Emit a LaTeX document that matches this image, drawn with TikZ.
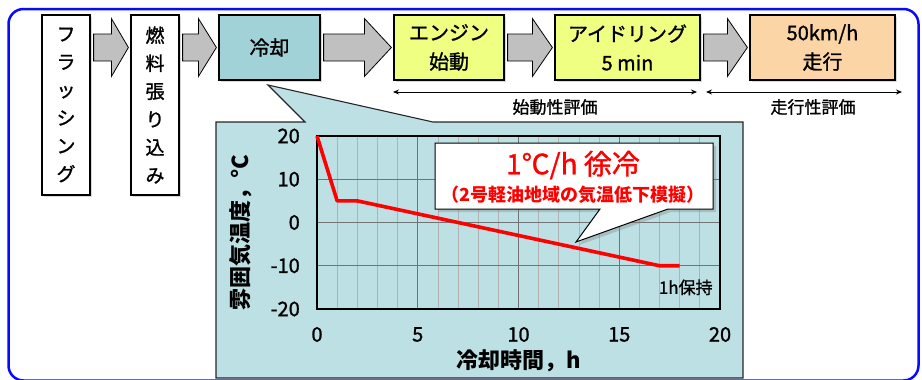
\documentclass[tikz,border=0pt]{standalone}
\usepackage{fontspec}
\setmainfont{Noto Sans CJK JP}
\newfontfamily\medfont{Noto Sans CJK JP}[FakeBold=1.2]
\usetikzlibrary{calc,arrows.meta,shadows}
\definecolor{panelblue}{RGB}{189,224,228}
\definecolor{coolblue}{RGB}{160,210,216}
\definecolor{boxyellow}{RGB}{238,255,130}
\definecolor{boxorange}{RGB}{252,213,166}
\definecolor{arrgrey}{RGB}{192,192,192}
\definecolor{framblue}{RGB}{10,10,250}
\newcommand\blkarrow[3]{%
  \draw[blockarr] let \p1=(#1.east), \p2=(#2.west), \p3=(cool.center) in
    (\x1+3pt,\y3+13.5pt) -- (\x2-2pt-#3pt,\y3+13.5pt) -- (\x2-2pt-#3pt,\y3+29pt)
    -- (\x2-2pt,\y3) -- (\x2-2pt-#3pt,\y3-29pt) -- (\x2-2pt-#3pt,\y3-13.5pt)
    -- (\x1+3pt,\y3-13.5pt) -- cycle;}
\begin{document}
\begin{tikzpicture}[x=1pt,y=-1pt,
  procbox/.style={draw=black, line width=1.2pt, inner sep=0pt, align=center,
    font=\medfont\fontsize{20}{29}\selectfont,
    drop shadow={opacity=0.3,shadow xshift=2pt,shadow yshift=-2pt}},
  vertbox/.style={procbox, minimum width=48pt, minimum height=180pt, fill=white,
    font=\medfont\fontsize{19}{28}\selectfont},
  topbox/.style={procbox, minimum height=65pt},
  blockarr/.style={draw=black, line width=0.8pt, fill=arrgrey},
  dblarr/.style={draw=black, line width=0.9pt, {Stealth[length=6pt,width=5pt]}-{Stealth[length=6pt,width=5pt]}},
  evallab/.style={font=\medfont\fontsize{17}{20}\selectfont},
  minorgrid/.style={draw=black!30, line width=0.8pt},
  majorgrid/.style={draw=black!55, line width=1pt},
  ticklab/.style={font=\medfont\fontsize{20}{22}\selectfont, inner sep=0pt},
  axislab/.style={font=\bfseries\fontsize{22}{24}\selectfont, inner sep=0pt},
  curve/.style={draw=red, line width=3.6pt, line join=round}]
\useasboundingbox (0,0) rectangle (922,380);
% outer frame
\draw[framblue, line width=2.5pt, rounded corners=15pt] (8.5,9) rectangle (918.5,380.5);
% process boxes
\node[vertbox] (flush) at (66,105) {フ\\ラ\\ッ\\シ\\ン\\グ};
\node[vertbox] (fuel) at (155,105) {燃\\料\\張\\り\\込\\み};
\node[topbox, minimum width=101pt, fill=coolblue] (cool) at (269.5,47.5) {冷却};
\node[topbox, minimum width=110pt, fill=boxyellow] (start) at (449,47.5) {エンジン\\始動};
\node[topbox, minimum width=145pt, fill=boxyellow] (idle) at (627.5,47.5) {アイドリング\\5 min};
\node[topbox, minimum width=145pt, fill=boxorange] (run) at (822.5,47.5) {50km/h\\走行};
% block arrows
\blkarrow{flush}{fuel}{17}
\blkarrow{fuel}{cool}{18}
\blkarrow{cool}{start}{27}
\blkarrow{start}{idle}{20}
\blkarrow{idle}{run}{20}
% evaluation ranges
\coordinate (evAa) at (393,92);
\coordinate (evAb) at (697,92);
\coordinate (evBa) at (706,92);
\coordinate (evBb) at (902,92);
\draw[dblarr] (evAa) -- (evAb);
\draw[dblarr] (evBa) -- (evBb);
\node[evallab] (evAlab) at (555,107) {始動性評価};
\node[evallab] (evBlab) at (813,107) {走行性評価};
% panel with pointer
\coordinate (ptip) at (268,85);
\draw[fill=panelblue, draw=black!85, line width=1.1pt, line join=miter]
  (216,122) -- (305,122) -- (ptip) -- (433,122) -- (743,122) -- (743,378) -- (216,378) -- cycle;
% plot
\begin{scope}[shift={(317,222.5)}, x=20.15pt, y=4.325pt]
  \foreach \i in {1,...,19} \draw[minorgrid] (\i,-20) -- (\i,20);
  \foreach \i in {5,10,15} \draw[majorgrid] (\i,-20) -- (\i,20);
  \foreach \j in {-10,0,10} \draw[majorgrid] (0,\j) -- (20,\j);
  \draw[black, line width=1.1pt] (0,-20) rectangle (20,20);
  \draw[curve] (0,20) -- (1,5) -- (2,5) -- (17,-10) -- (18,-10);
  \foreach \j in {-20,-10,0,10,20}
    \node[ticklab, anchor=east, xshift=-17pt] at (0,\j) {\j};
  \foreach \i in {0,5,10,15,20}
    \node[ticklab, yshift=-25.5pt] at (\i,-20) {\i};
  \node[axislab] (xlab) at (10,-20) [yshift=-52pt] {冷却時間，h};
  \node[font=\medfont\fontsize{17}{20}\selectfont, inner sep=0pt] (hold) at (18.3,-15) {1h保持};
\end{scope}
\node[axislab, rotate=90] (ylab) at (241,233) {雰囲気温度，°C};
% callout
\draw[fill=white, draw=black, line width=1pt,
  drop shadow={opacity=0.35,shadow xshift=3pt,shadow yshift=-3pt}]
  (435,143) -- (713,143) -- (713,209) -- (668,209) -- (576,242) -- (600,209) -- (435,209) -- cycle;
\node[text=red, font=\medfont\fontsize{28}{30}\selectfont, inner sep=0pt] (ctitle) at (573,165) {1℃/h 徐冷};
\node[text=red, font=\bfseries\fontsize{18}{20}\selectfont, inner sep=0pt] (csub) at (573,195) {（2号軽油地域の気温低下模擬）};
\end{tikzpicture}
\end{document}
